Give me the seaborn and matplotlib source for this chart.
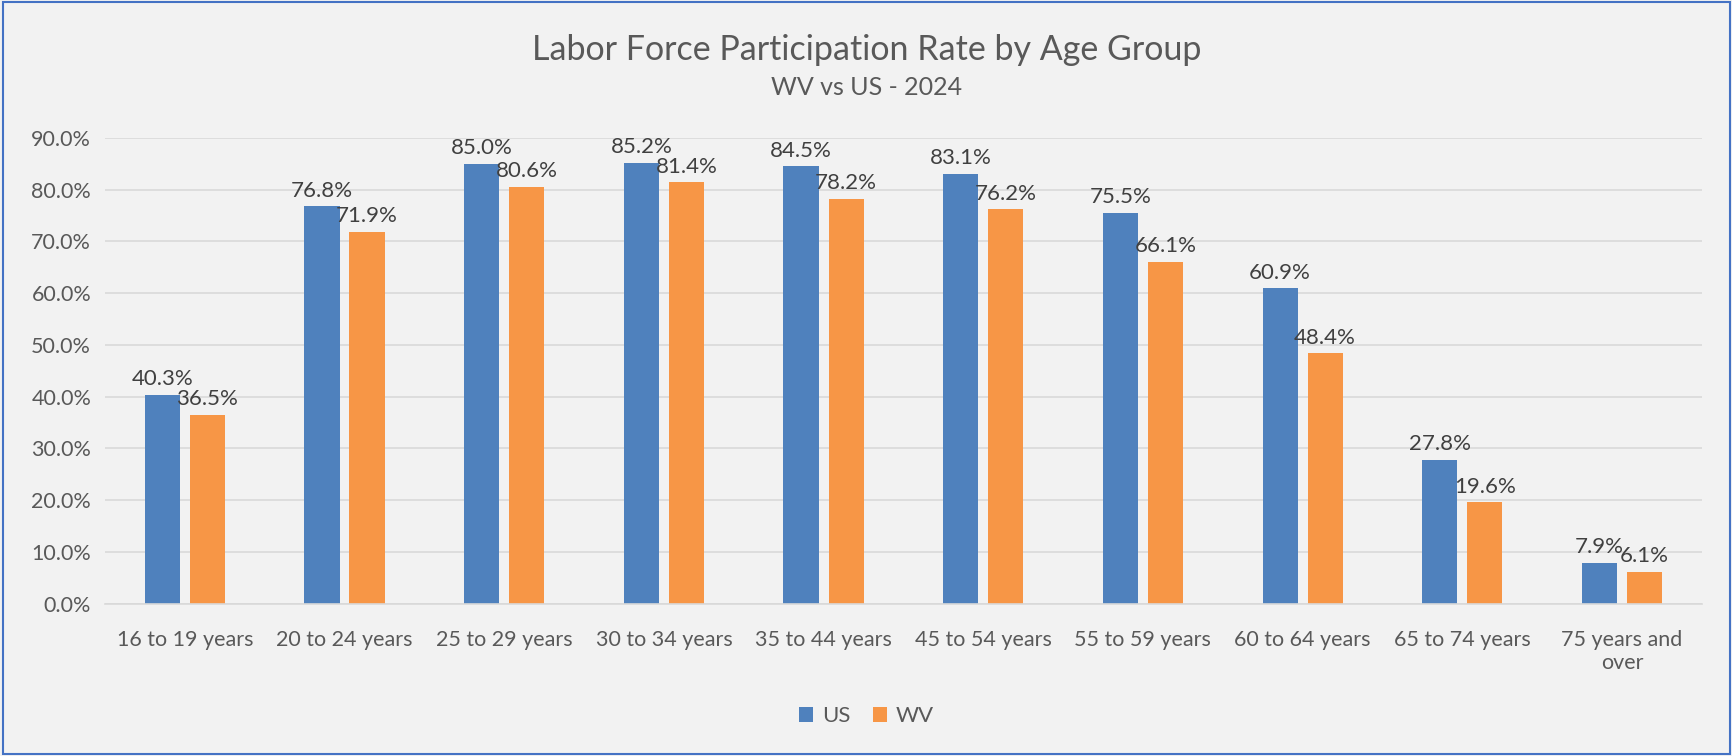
import matplotlib
matplotlib.use("Agg")
import matplotlib.pyplot as plt
import seaborn as sns
import pandas as pd
from matplotlib.patches import Rectangle
from matplotlib.ticker import FuncFormatter

age_groups = ["16 to 19 years", "20 to 24 years", "25 to 29 years", "30 to 34 years",
              "35 to 44 years", "45 to 54 years", "55 to 59 years", "60 to 64 years",
              "65 to 74 years", "75 years and\nover"]
us_rate = [40.3, 76.8, 85.0, 85.2, 84.5, 83.1, 75.5, 60.9, 27.8, 7.9]
wv_rate = [36.5, 71.9, 80.6, 81.4, 78.2, 76.2, 66.1, 48.4, 19.6, 6.1]
series = ["US", "WV"]

df = pd.DataFrame({
    "age": age_groups * 2,
    "rate": us_rate + wv_rate,
    "area": ["US"] * len(age_groups) + ["WV"] * len(age_groups),
})

bg = "#F2F2F2"
text_col = "#595959"
sns.set_theme(style="white")
plt.rcParams["font.family"] = ["Lato", "DejaVu Sans"]

fig = plt.figure(figsize=(17.33, 7.56), dpi=100, facecolor=bg)
ax = fig.add_axes([0.0606, 0.2017, 0.9214, 0.6158])
ax.set_facecolor(bg)

sns.barplot(data=df, x="age", y="rate", hue="area", hue_order=series,
            palette={"US": "#4F81BD", "WV": "#F79646"}, width=0.564, gap=0.22,
            ax=ax, legend=True, saturation=1, edgecolor="none")

for cont in ax.containers:
    ax.bar_label(cont, fmt="%.1f%%", padding=4, fontsize=16, color="#404040")

ax.set_ylim(0, 90)
ax.set_yticks(range(0, 91, 10))
ax.yaxis.set_major_formatter(FuncFormatter(lambda v, p: f"{v:.1f}%"))
ax.grid(axis="y", color="#D9D9D9", linewidth=1.2)
ax.set_axisbelow(True)
for s in ["top", "right", "left"]:
    ax.spines[s].set_visible(False)
ax.spines["bottom"].set_color("#D9D9D9")
ax.spines["bottom"].set_linewidth(1.2)
ax.tick_params(axis="both", length=0, labelsize=15.5, colors=text_col)
ax.tick_params(axis="y", pad=10)
ax.tick_params(axis="x", pad=19)
ax.set_xlabel("")
ax.set_ylabel("")
ax.set_xlim(-0.5, len(age_groups) - 0.5)

ax.legend_.remove()
handles, labels = ax.get_legend_handles_labels()
fig.legend(handles, labels, loc="center", bbox_to_anchor=(0.5, 0.053), ncol=2,
           frameon=False, fontsize=16, labelcolor=text_col, handlelength=0.65,
           handleheight=0.65, handletextpad=0.4, columnspacing=1.0)

fig.text(0.5, 0.934, "Labor Force Participation Rate by Age Group", ha="center",
         va="center", fontsize=24.5, color=text_col)
fig.text(0.5, 0.884, "WV vs US - 2024", ha="center", va="center", fontsize=18,
         color=text_col)

fig.patches.append(Rectangle((0.002, 0.003), 0.996, 0.994, transform=fig.transFigure,
                             fill=False, edgecolor="#4472C4", linewidth=1.5))

fig.savefig("out.png", dpi=100, facecolor=bg)
plt.close(fig)
